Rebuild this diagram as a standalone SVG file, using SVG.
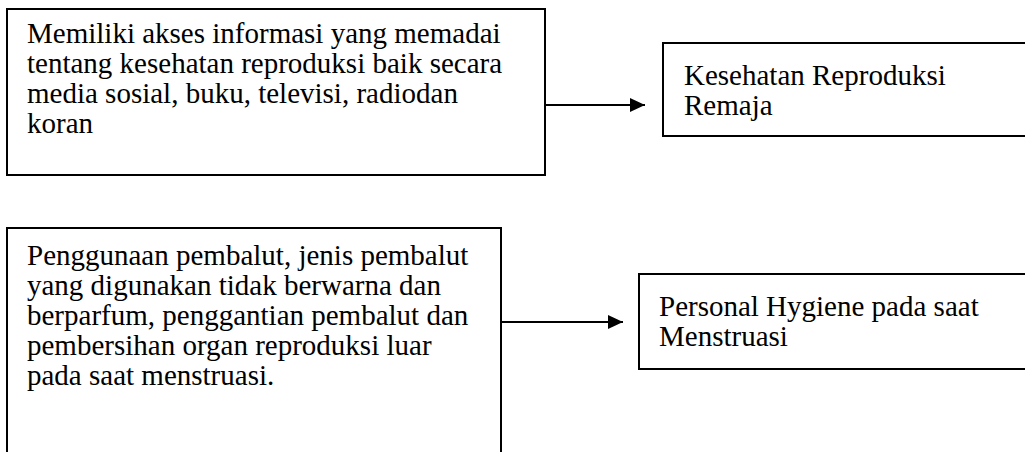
<svg xmlns="http://www.w3.org/2000/svg" width="1025" height="452" viewBox="0 0 1025 452">
<style>
.box{fill:#fff;stroke:#000;stroke-width:2}
.t{font-family:"Liberation Serif","Times New Roman",serif;font-size:29px;fill:#000}
.c{stroke:#000;stroke-width:2;fill:none}
</style>
<defs>
<marker id="ah" markerWidth="16" markerHeight="14" refX="15" refY="7" orient="auto" markerUnits="userSpaceOnUse">
<path d="M0,0 L15,7 L0,14 Z" fill="#000"/>
</marker>
</defs>
<rect width="1025" height="452" fill="#fff"/>
<g id="node1">
<rect class="box" x="7" y="9" width="538" height="166"/>
<text class="t" x="27" y="43">Memiliki akses informasi yang memadai</text>
<text class="t" x="27" y="73">tentang kesehatan reproduksi baik secara</text>
<text class="t" x="27" y="103">media sosial, buku, televisi, radiodan</text>
<text class="t" x="27" y="133">koran</text>
</g>
<g id="node2">
<rect class="box" x="663" y="43" width="400" height="93"/>
<text class="t" x="684" y="85">Kesehatan Reproduksi</text>
<text class="t" x="684" y="115">Remaja</text>
</g>
<g id="node3">
<rect class="box" x="7" y="228" width="494" height="240"/>
<text class="t" x="27" y="265">Penggunaan pembalut, jenis pembalut</text>
<text class="t" x="27" y="295">yang digunakan tidak berwarna dan</text>
<text class="t" x="27" y="325">berparfum, penggantian pembalut dan</text>
<text class="t" x="27" y="355">pembersihan organ reproduksi luar</text>
<text class="t" x="27" y="385">pada saat menstruasi.</text>
</g>
<g id="node4">
<rect class="box" x="639" y="274" width="420" height="95"/>
<text class="t" x="659" y="316">Personal Hygiene pada saat</text>
<text class="t" x="659" y="346">Menstruasi</text>
</g>
<g id="connectors">
<line class="c" x1="545" y1="105" x2="645" y2="105" marker-end="url(#ah)"/>
<line class="c" x1="501" y1="322" x2="623" y2="322" marker-end="url(#ah)"/>
</g>
</svg>
